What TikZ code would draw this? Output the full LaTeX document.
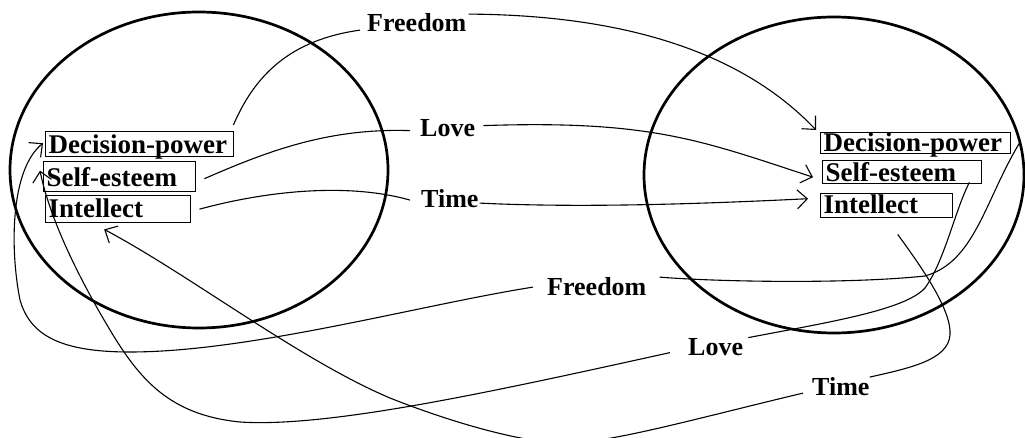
\documentclass[tikz,border=0pt]{standalone}
\usepackage{fontspec}
\setmainfont{Liberation Serif}
\usetikzlibrary{arrows.meta,calc}
\begin{document}
\begin{tikzpicture}[x=1pt,y=-1pt,
  conn/.style={line width=1.1pt},
  arr/.style={conn,-{Straight Barb[length=10pt,width=19pt,line width=1.1pt]}},
  ell/.style={line width=2.7pt},
  bx/.style={draw,line width=1.4pt,anchor=north west,inner xsep=3pt,inner ysep=0pt,font=\bfseries\fontsize{27}{27}\selectfont},
  lbl/.style={inner sep=0pt,anchor=base west,font=\bfseries\fontsize{26}{26}\selectfont}]
\useasboundingbox[fill=white] (0,0) rectangle (1025,438);
\clip (0,0) rectangle (1025,438);

% ellipses
\draw[ell] (199,170) ellipse [x radius=189pt, y radius=158pt];
\draw[ell] (834,175) ellipse [x radius=190pt, y radius=158pt];

% boxes
\node[bx,text height=22pt,text depth=3pt] (lDP) at (45,131) {\makebox[182pt][l]{Decision-power}};
\node[bx,text height=24.5pt,text depth=5.5pt] (lSE) at (43,161) {\makebox[146pt][l]{Self-esteem}};
\node[bx,text height=22pt,text depth=5pt] (lIN) at (45,195) {\makebox[139pt][l]{Intellect}};
\node[bx,text height=19pt,text depth=2pt] (rDP) at (820,132) {\makebox[184pt][l]{Decision-power}};
\node[bx,text height=21pt,text depth=2pt] (rSE) at (822,160) {\makebox[153pt][l]{Self-esteem}};
\node[bx,text height=20pt,text depth=4pt] (rIN) at (820,193) {\makebox[126pt][l]{Intellect}};

% labels
\node[lbl] (fT) at (367,32) {Freedom};
\node[lbl] (lT) at (420,137) {Love};
\node[lbl] (tT) at (421,208) {Time};
\node[lbl] (fB) at (547,295) {Freedom};
\node[lbl] (lB) at (688,355) {Love};
\node[lbl] (tB) at (812,395) {Time};

% top connectors
\draw[conn] ($(lDP.north east)+(-1,-6)$) .. controls (255,75) and (290,40) .. ($(fT.west)+(-7,7)$);
\draw[arr] ($(fT.east)+(2,-9)$) .. controls (620,15) and (740,50) .. ($(rDP.north west)+(-4,-2)$);
\draw[conn] ($(lSE.east)+(8,2)$) .. controls (270,150) and (330,128) .. ($(lT.west)+(-10,2)$);
\draw[arr] ($(lT.east)+(8,-3)$) .. controls (650,120) and (700,140) .. ($(rSE.west)+(-9,5)$);
\draw[conn] ($(lIN.east)+(8,0)$) .. controls (270,190) and (350,183) .. ($(tT.west)+(-11,1)$);
\draw[arr] ($(tT.east)+(1,4)$) .. controls (580,208) and (700,204) .. ($(rIN.west)+(-12,-7)$);

% bottom connectors
\draw[conn] ($(rDP.east)+(8,0)$) .. controls (985,200) and (975,262) .. (925,276) .. controls (850,284) and (720,282) .. ($(fB.east)+(13,-9)$);
\draw[arr] ($(fB.west)+(-14,1)$) .. controls (420,305) and (250,352) .. (130,352) .. controls (60,352) and (30,335) .. (20,300) .. controls (10,250) and (10,170) .. ($(lDP.west)+(-2,-1)$);
\draw[conn] ($(rSE.south east)+(-13,-2)$) .. controls (955,210) and (945,260) .. (925,288) .. controls (905,310) and (830,322) .. ($(lB.east)+(5,-9)$);
\draw[arr] ($(lB.west)+(-18,6)$) .. controls (500,390) and (330,428) .. (240,422) .. controls (170,415) and (140,380) .. (110,330) .. controls (80,280) and (50,220) .. ($(lSE.west)+(-3,-6)$);
\draw[conn] ($(rIN.south)+(11,16)$) .. controls (920,265) and (952,310) .. (950,335) .. controls (948,360) and (910,368) .. ($(tB.east)+(0,-9)$);
\draw[arr] ($(tB.west)+(-9,7)$) .. controls (690,420) and (600,446) .. (557,443) .. controls (510,440) and (440,418) .. (390,398) .. controls (300,360) and (190,275) .. ($(lIN.south)+(-14,6)$);
\end{tikzpicture}
\end{document}
